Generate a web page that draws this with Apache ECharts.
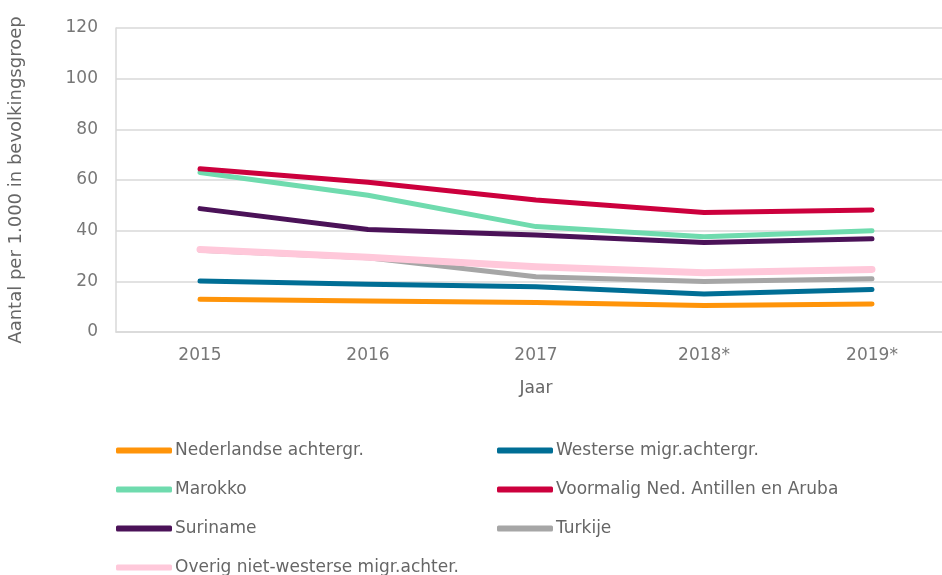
<!DOCTYPE html>
<html>
<head>
<meta charset="utf-8">
<script src="https://cdn.jsdelivr.net/npm/echarts@6/dist/echarts.min.js"></script>
<style>
  html, body { margin: 0; padding: 0; background: #fff; }
  #chart { width: 942px; height: 575px; }
</style>
</head>
<body>
<div id="chart"></div>
<script>
const years = ['2015', '2016', '2017', '2018*', '2019*']

// aantal per 1.000 in bevolkingsgroep
const nederlands = [12.9, 12.2, 11.6, 10.5, 11.1]
const westers = [20.1, 18.8, 17.9, 15.0, 16.8]
const marokko = [63.0, 54.0, 41.6, 37.6, 40.0]
const antillen = [64.4, 59.1, 52.1, 47.2, 48.2]
const suriname = [48.7, 40.5, 38.3, 35.3, 36.8]
const turkije = [32.3, 29.3, 21.8, 19.9, 21.0]
const overig = [32.6, 29.5, 25.8, 23.4, 24.7]

const yTicks = [0, 20, 40, 60, 80, 100, 120]

const fontFam = '"DejaVu Sans", sans-serif'

const seriesList = [
  { name: 'Nederlandse achtergr.', data: nederlands, color: '#FF9409' },
  { name: 'Westerse migr.achtergr.', data: westers, color: '#006E95' },
  { name: 'Marokko', data: marokko, color: '#6FDBAE' },
  { name: 'Voormalig Ned. Antillen en Aruba', data: antillen, color: '#CC003D' },
  { name: 'Suriname', data: suriname, color: '#4B1258' },
  { name: 'Turkije', data: turkije, color: '#A6A6A6' },
  { name: 'Overig niet-westerse migr.achter.', data: overig, color: '#FFC8DA', width: 7 }
]

const chart = echarts.init(document.getElementById('chart'))

const legendBase = {
  orient: 'vertical',
  icon: 'roundRect',
  itemWidth: 56,
  itemHeight: 6,
  itemGap: 22,
  padding: 0,
  height: 200,
  textStyle: { color: '#666', fontSize: 17, fontFamily: fontFam, padding: [0, 0, 0, -2] }
}

chart.setOption({
  animation: false,
  grid: { left: 116, top: 28, right: -14, bottom: 243, outerBoundsMode: 'none' },
  legend: [
    Object.assign({}, legendBase, {
      left: 116, top: 442,
      data: [seriesList[0].name, seriesList[2].name, seriesList[4].name, seriesList[6].name]
    }),
    Object.assign({}, legendBase, {
      left: 497, top: 442,
      data: [seriesList[1].name, seriesList[3].name, seriesList[5].name]
    })
  ],
  xAxis: {
    type: 'category',
    data: years,
    name: 'Jaar',
    nameLocation: 'middle',
    nameGap: 48,
    nameTextStyle: { color: '#666', fontSize: 17, fontFamily: fontFam },
    axisLine: { lineStyle: { color: '#D9D9D9', width: 1.5 } },
    axisTick: { show: false },
    axisLabel: { color: '#777', fontSize: 17, fontFamily: fontFam, margin: 15 }
  },
  yAxis: {
    type: 'value',
    min: yTicks[0],
    max: yTicks[yTicks.length - 1],
    interval: 20,
    name: 'Aantal per 1.000 in bevolkingsgroep',
    nameLocation: 'middle',
    nameGap: 91,
    nameTextStyle: { color: '#666', fontSize: 18, fontFamily: fontFam },
    axisLine: { show: true, lineStyle: { color: '#D9D9D9', width: 1.5 } },
    axisTick: { show: false },
    axisLabel: { color: '#777', fontSize: 17, fontFamily: fontFam, margin: 18 },
    splitLine: { lineStyle: { color: '#D9D9D9', width: 1.5 } }
  },
  series: seriesList.map(s => ({
    name: s.name,
    type: 'line',
    data: s.data,
    symbol: 'none',
    color: s.color,
    lineStyle: { width: s.width || 5, color: s.color, cap: 'round', join: 'round' }
  }))
})
</script>
</body>
</html>
